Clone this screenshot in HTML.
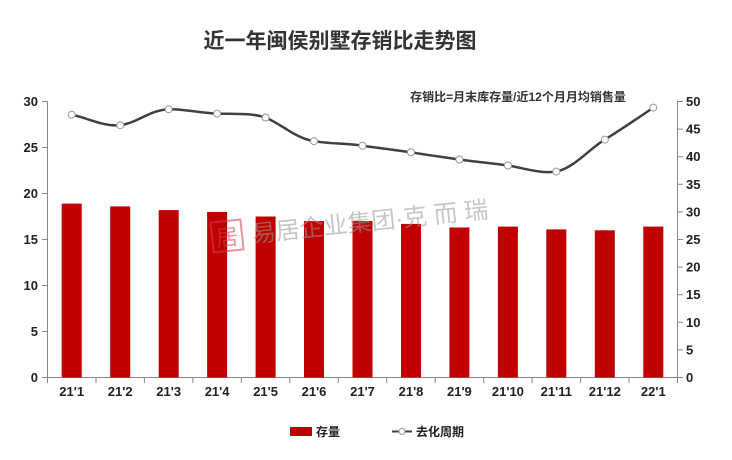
<!DOCTYPE html>
<html><head><meta charset="utf-8"><style>
html,body{margin:0;padding:0;background:#fff;}
svg{display:block;font-family:"Liberation Sans","Noto Sans CJK SC",sans-serif;}
</style></head><body>
<svg width="732" height="460" viewBox="0 0 732 460" xmlns="http://www.w3.org/2000/svg">
<rect width="732" height="460" fill="#fff"/>
<text x="340" y="48" font-size="21" font-weight="bold" fill="#333" text-anchor="middle">近一年闽侯别墅存销比走势图</text>
<text x="518" y="101" font-size="12" font-weight="bold" fill="#333" text-anchor="middle">存销比=月末库存量/近12个月月均销售量</text>
<g stroke="#888" stroke-width="1" fill="none">
<line x1="47.5" y1="101" x2="47.5" y2="377.5"/>
<line x1="677.5" y1="101" x2="677.5" y2="377.5"/>
<line x1="47" y1="377.5" x2="678" y2="377.5"/>
<path d="M42 377.5H47.5M42 331.5H47.5M42 285.5H47.5M42 239.5H47.5M42 193.5H47.5M42 147.5H47.5M42 101.5H47.5"/>
<path d="M677.5 377.5H683M677.5 349.9H683M677.5 322.3H683M677.5 294.7H683M677.5 267.1H683M677.5 239.5H683M677.5 211.9H683M677.5 184.3H683M677.5 156.7H683M677.5 129.1H683M677.5 101.5H683"/>
<path d="M47.5 377.5V383M96 377.5V383M144.4 377.5V383M192.9 377.5V383M241.3 377.5V383M289.8 377.5V383M338.3 377.5V383M386.7 377.5V383M435.2 377.5V383M483.7 377.5V383M532.1 377.5V383M580.6 377.5V383M629 377.5V383M677.5 377.5V383"/>
</g>
<g font-size="13" font-weight="bold" fill="#222" text-anchor="end">
<text x="38" y="382">0</text><text x="38" y="336">5</text><text x="38" y="290">10</text><text x="38" y="244">15</text><text x="38" y="198">20</text><text x="38" y="152">25</text><text x="38" y="106">30</text>
</g>
<g font-size="13" font-weight="bold" fill="#222">
<text x="686" y="382">0</text><text x="686" y="354.4">5</text><text x="686" y="326.8">10</text><text x="686" y="299.2">15</text><text x="686" y="271.6">20</text><text x="686" y="244">25</text><text x="686" y="216.4">30</text><text x="686" y="188.8">35</text><text x="686" y="161.2">40</text><text x="686" y="133.6">45</text><text x="686" y="106">50</text>
</g>
<g fill="#c00000">
<rect x="61.7" y="203.6" width="20" height="173.9"/>
<rect x="110.2" y="206.4" width="20" height="171.1"/>
<rect x="158.7" y="210.1" width="20" height="167.4"/>
<rect x="207.1" y="211.9" width="20" height="165.6"/>
<rect x="255.6" y="216.5" width="20" height="161"/>
<rect x="304" y="221.1" width="20" height="156.4"/>
<rect x="352.5" y="221.1" width="20" height="156.4"/>
<rect x="401" y="223.9" width="20" height="153.6"/>
<rect x="449.4" y="227.5" width="20" height="150"/>
<rect x="497.9" y="226.6" width="20" height="150.9"/>
<rect x="546.3" y="229.4" width="20" height="148.1"/>
<rect x="594.8" y="230.3" width="20" height="147.2"/>
<rect x="643.3" y="226.6" width="20" height="150.9"/>
</g>
<g font-size="13" font-weight="bold" fill="#222" text-anchor="middle">
<text x="71.7" y="396">21'1</text><text x="120.2" y="396">21'2</text><text x="168.7" y="396">21'3</text><text x="217.1" y="396">21'4</text><text x="265.6" y="396">21'5</text><text x="314" y="396">21'6</text><text x="362.5" y="396">21'7</text><text x="411" y="396">21'8</text><text x="459.4" y="396">21'9</text><text x="507.9" y="396">21'10</text><text x="556.3" y="396">21'11</text><text x="604.8" y="396">21'12</text><text x="653.3" y="396">22'1</text>
</g>
<path fill="none" stroke="#404040" stroke-width="2.5" stroke-linejoin="round" d="M71.7 114.7 C88 118,104 127,120.2 125.2 C137 123,150 110,168.7 109.2 C185 109,200 113,217.1 113.6 C235 114,252 113,265.6 117.5 C283 125,295 138,314 141.2 C330 144,346 143,362.5 145.7 C379 148,394 150,411 152.3 C427 155,443 157,459.4 159.5 C476 162,491 163,507.9 165.5 C524 168,540 174,556.3 171.6 C574 168,588 150,604.8 139.6 C622 129,638 118,653.3 107.6"/>
<g fill="#fff" stroke="#999" stroke-width="1">
<circle cx="71.7" cy="114.7" r="3.5"/><circle cx="120.2" cy="125.2" r="3.5"/><circle cx="168.7" cy="109.2" r="3.5"/><circle cx="217.1" cy="113.6" r="3.5"/><circle cx="265.6" cy="117.5" r="3.5"/><circle cx="314" cy="141.2" r="3.5"/><circle cx="362.5" cy="145.7" r="3.5"/><circle cx="411" cy="152.3" r="3.5"/><circle cx="459.4" cy="159.5" r="3.5"/><circle cx="507.9" cy="165.5" r="3.5"/><circle cx="556.3" cy="171.6" r="3.5"/><circle cx="604.8" cy="139.6" r="3.5"/><circle cx="653.3" cy="107.6" r="3.5"/>
</g>
<g opacity="0.55" transform="rotate(-6 350 210)">
<rect x="210" y="208" width="30" height="30" fill="none" stroke="#d04050" stroke-width="2"/>
<text x="225" y="232" font-size="22" fill="#d04050" text-anchor="middle">居</text>
<text x="250" y="232" font-size="24" fill="#999">易居企业集团·克 而 瑞</text>
</g>
<rect x="290" y="427" width="22" height="9" fill="#c00000"/>
<text x="316" y="436" font-size="12" font-weight="bold" fill="#222">存量</text>
<line x1="392" y1="431.5" x2="412" y2="431.5" stroke="#404040" stroke-width="2"/>
<circle cx="402" cy="431.5" r="3" fill="#fff" stroke="#999"/>
<text x="416" y="436" font-size="12" font-weight="bold" fill="#222">去化周期</text>
</svg>
</body></html>
